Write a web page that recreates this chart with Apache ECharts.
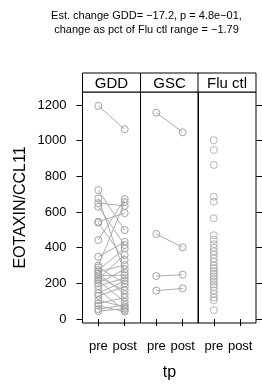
<!DOCTYPE html>
<html><head><meta charset="utf-8">
<script src="https://cdn.jsdelivr.net/npm/echarts@6/dist/echarts.min.js"></script>
<style>html,body{margin:0;padding:0;background:#fff}#c{width:262px;height:386px}</style>
</head><body><div id="c"></div>
<script>
// ---- data ----
const panels = ['GDD', 'GSC', 'Flu ctl'];
const timepoints = ['pre', 'post'];
const yTicks = [0, 200, 400, 600, 800, 1000, 1200];
const gddPre  = [1195, 723, 677, 650, 630, 546, 540, 443, 349, 300, 290, 275, 265, 255, 245, 235, 225, 215, 200, 185, 165, 145, 130, 105, 88, 75, 55, 45];
const gddPost = [1064, 499, 260, 635, 415, 594, 331, 673, 433, 656, 200, 396, 303, 140, 245, 160, 360, 97, 280, 230, 50, 215, 181, 69, 120, 42, 80, 58];
const gscPre  = [1157, 477, 241, 159];
const gscPost = [1047, 402, 249, 172];
const fluPre  = [1003, 948, 864, 686, 658, 565, 470, 445, 420, 400, 380, 360, 340, 320, 300, 285, 270, 255, 240, 225, 210, 195, 180, 160, 140, 120, 105, 50];
const titleLines = ['Est. change GDD= \u221217.2, p = 4.8e\u221201,', 'change as pct of Flu ctl range = \u22121.79'];
const yName = 'EOTAXIN/CCL11';
const xName = 'tp';

// ---- layout ----
const FONT = 'Liberation Sans, Arial, sans-serif';
const panelLeft = [82.5, 140.5, 198];
const panelW = 58;
const panelTop = 92, panelH = 231;
const stripTop = 73, stripH = 19;
const yMin = -22, yMax = 1273;
const ptColor = '#a3a3a3', lnColor = '#adadad';

const chart = echarts.init(document.getElementById('c'), null, {renderer: 'canvas'});

const grids = panelLeft.map(l => ({left: l, top: panelTop, width: panelW, height: panelH,
  show: true, borderColor: '#000', borderWidth: 1, backgroundColor: 'transparent', containLabel: false}));

const xAxes = panelLeft.map((l, i) => ({
  type: 'value', gridIndex: i, min: 0.4, max: 2.6,
  axisLine: {show: false}, splitLine: {show: false},
  axisTick: {show: true, customValues: [1, 2], length: 7, lineStyle: {color: '#000', width: 1}},
  axisLabel: {show: true, customValues: [1, 2], formatter: v => timepoints[Math.round(v) - 1],
    fontSize: 13, color: '#000', fontFamily: FONT, margin: 17},
  name: i === 1 ? xName : '', nameLocation: 'middle', nameGap: 42,
  nameTextStyle: {fontSize: 16, color: '#000', fontFamily: FONT}
}));

const yAxes = [
  {type: 'value', gridIndex: 0, position: 'left', min: yMin, max: yMax,
   axisLine: {show: false}, splitLine: {show: false},
   axisTick: {show: true, customValues: yTicks, length: 6, lineStyle: {color: '#000'}},
   axisLabel: {show: true, customValues: yTicks, formatter: v => String(v),
     fontSize: 13, color: '#000', fontFamily: FONT, margin: 16},
   name: yName, nameLocation: 'middle', nameGap: 54,
   nameTextStyle: {fontSize: 16, color: '#000', fontFamily: FONT}},
  {type: 'value', gridIndex: 1, min: yMin, max: yMax, show: false},
  {type: 'value', gridIndex: 2, position: 'right', min: yMin, max: yMax,
   axisLine: {show: false}, splitLine: {show: false},
   axisTick: {show: true, customValues: yTicks, length: 6, lineStyle: {color: '#000'}},
   axisLabel: {show: false}}
];

const series = [];
function pairSeries(pre, post, idx) {
  pre.forEach((p, k) => {
    series.push({type: 'line', xAxisIndex: idx, yAxisIndex: idx, silent: true,
      data: [[1, p], [2, post[k]]], symbol: 'circle', symbolSize: 7, showSymbol: true,
      lineStyle: {color: lnColor, width: 1},
      itemStyle: {color: 'rgba(255,255,255,0)', borderColor: ptColor, borderWidth: 1}});
  });
}
pairSeries(gddPre, gddPost, 0);
pairSeries(gscPre, gscPost, 1);
series.push({type: 'scatter', xAxisIndex: 2, yAxisIndex: 2, silent: true,
  data: fluPre.map(v => [1, v]), symbol: 'circle', symbolSize: 7,
  itemStyle: {color: 'rgba(255,255,255,0)', borderColor: ptColor, borderWidth: 1}});

const graphics = [];
panels.forEach((name, i) => {
  graphics.push({type: 'rect', shape: {x: panelLeft[i], y: stripTop, width: panelW, height: stripH},
    style: {fill: '#fff', stroke: '#000', lineWidth: 1}, silent: true});
  graphics.push({type: 'text', x: panelLeft[i] + panelW / 2, y: stripTop + stripH / 2 + 1,
    style: {text: name, fontSize: 15, fontFamily: FONT, fill: '#000', align: 'center', verticalAlign: 'middle'}, silent: true});
});
graphics.push({type: 'text', x: 146.5, y: 9,
  style: {text: titleLines.join('\n'), fontSize: 11, lineHeight: 14, fontFamily: FONT, fill: '#000',
    align: 'center', verticalAlign: 'top'}, silent: true});

chart.setOption({
  animation: false,
  backgroundColor: '#fff',
  grid: grids, xAxis: xAxes, yAxis: yAxes, series: series, graphic: graphics
});
</script></body></html>
